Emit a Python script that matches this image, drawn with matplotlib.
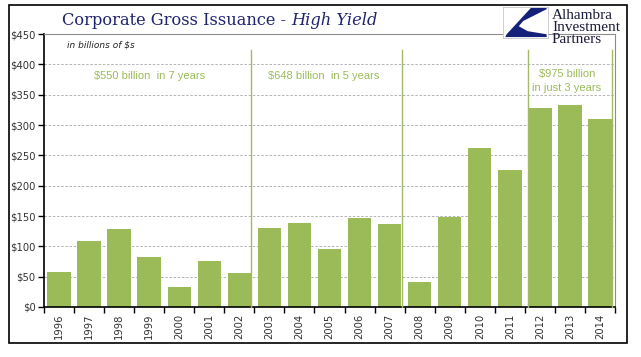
import numpy as np
import matplotlib.pyplot as plt
from matplotlib.patches import Rectangle, Polygon
from matplotlib.ticker import FixedLocator

years = [str(y) for y in range(1996, 2015)]
issuance = [58, 108, 129, 83, 33, 76, 56, 131, 138, 96,
            146, 136, 41, 148, 262, 226, 328, 333, 310]
y_ticks = list(range(0, 451, 50))
y_labels = [f"${v}" for v in y_ticks]

# period markers: (x position in category units, top)
period_lines = [6.4, 11.4, 15.6, 18.4]
line_top = 423
notes = [(3.0, 380, "$550 billion  in 7 years"),
         (8.8, 380, "$648 billion  in 5 years"),
         (16.9, 373, "$975 billion\nin just 3 years")]

green = "#9BBB59"
navy = "#1F2370"
tick_font = dict(family="DejaVu Sans", stretch="condensed", color="#333333")

W, H = 641, 357
fig = plt.figure(figsize=(W / 100, H / 100), dpi=100)
ax = fig.add_axes([44 / W, 1 - 307 / H, (615 - 44) / W, (307 - 34) / H])

x = np.arange(len(years))
ax.bar(x, issuance, width=0.78, color=green, zorder=2)

for xv in period_lines:
    ax.plot([xv, xv], [0, line_top], color="#A4B86A", lw=1.0, zorder=3, clip_on=False)

for xv, yv, s in notes:
    ax.text(xv, yv, s, color=green, ha="center", va="center", fontsize=8,
            linespacing=1.45, family=["Liberation Sans", "DejaVu Sans"])

ax.set_xlim(-0.5, len(years) - 0.5)
ax.set_ylim(0, 450)
ax.set_yticks(y_ticks)
ax.set_yticklabels(y_labels, fontsize=8, **tick_font)
for v in y_ticks[1:-1]:
    ax.axhline(v, color="#A8A8A8", lw=0.6, ls=(0, (3, 2)), zorder=1)

ax.set_xticks(x)
ax.set_xticklabels(years, rotation=90, fontsize=8, **tick_font)
ax.xaxis.set_minor_locator(FixedLocator(np.arange(-0.5, len(years), 1)))
ax.tick_params(axis="x", which="major", length=0, pad=5)
ax.tick_params(axis="x", which="minor", length=4, direction="out", width=1)
ax.tick_params(axis="y", length=4, direction="out", width=1, pad=2)

ax.spines["left"].set_linewidth(1.2)
ax.spines["bottom"].set_linewidth(1.2)
ax.spines["top"].set_color("#8C8C8C")
ax.spines["right"].set_color("#8C8C8C")
ax.spines["top"].set_linewidth(0.8)
ax.spines["right"].set_linewidth(0.8)

ax.text(0.04, 0.975, "in billions of $s", transform=ax.transAxes, fontsize=6.5,
        style="italic", color="#222222", va="top")

# title, with the italic part right after the plain part
t1 = fig.text(62 / W, 1 - 25 / H, "Corporate Gross Issuance - ", fontsize=11.7,
              family="DejaVu Serif", color=navy, va="baseline")
ax.annotate("High Yield", xy=(1, 0), xycoords=t1, va="bottom", ha="left",
            fontsize=11.7, family="DejaVu Serif", style="italic", color=navy,
            annotation_clip=False)

# logo
lax = fig.add_axes([503 / W, 1 - 38 / H, 45 / W, 31 / H])
lax.set_xlim(0, 1)
lax.set_ylim(0, 1)
lax.set_xticks([])
lax.set_yticks([])
for s in lax.spines.values():
    s.set_color("#C8C8C8")
    s.set_linewidth(0.6)
lax.add_patch(Polygon([(0.62, 0.97), (0.97, 0.97), (0.97, 0.93), (0.45, 0.55),
                       (0.35, 0.38), (0.55, 0.22), (0.97, 0.12), (0.97, 0.03),
                       (0.05, 0.03), (0.08, 0.12)],
                      closed=True, color="#15207A", lw=0))
fig.text(552 / W, 1 - 9 / H, "Alhambra\nInvestment\nPartners", fontsize=11,
         family="Liberation Serif", color="#1B1B3A", va="top", linespacing=0.88)

fig.patches.append(Rectangle((9 / W, 14 / H), (627 - 9) / W, (352 - 14) / H,
                             transform=fig.transFigure, fill=False,
                             edgecolor="black", lw=1.2))

fig.savefig("out.png", dpi=100)
